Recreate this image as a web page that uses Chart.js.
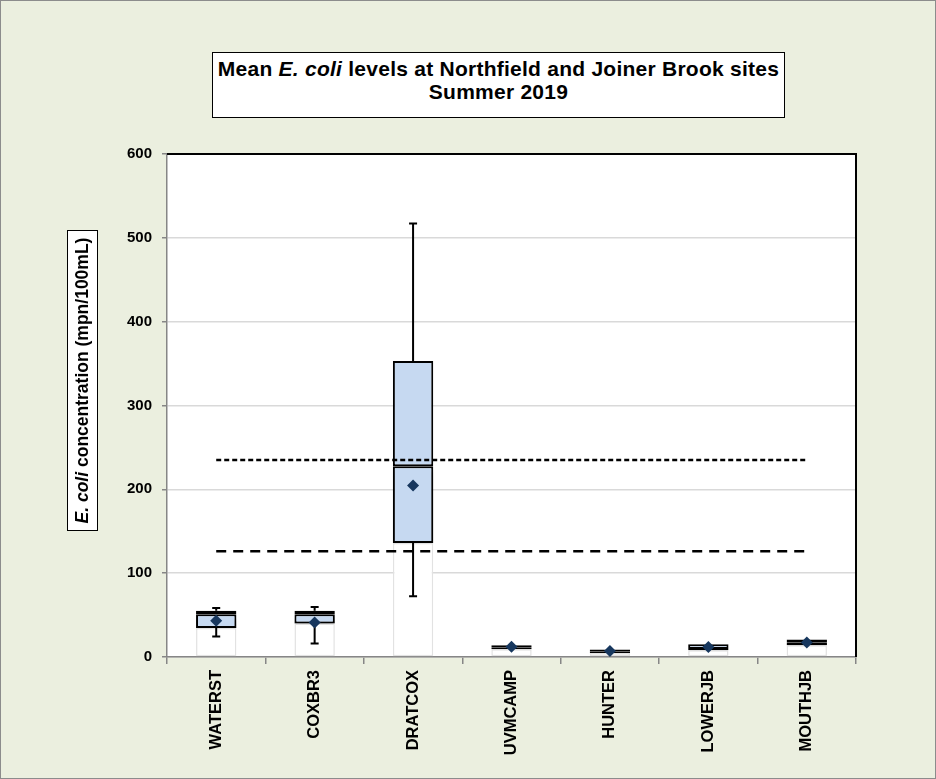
<!DOCTYPE html>
<html>
<head>
<meta charset="utf-8">
<script src="https://cdn.jsdelivr.net/npm/chart.js@4.4.0/dist/chart.umd.min.js"></script>
<style>
  html, body { margin: 0; padding: 0; }
  body {
    width: 936px; height: 779px; position: relative; overflow: hidden;
    background: #ebefdf; font-family: "Liberation Sans", Arial, sans-serif;
  }
  #frame { position: absolute; left: 0; top: 0; width: 934px; height: 777px; border: 1px solid #8c8c8c; }
  #chart { position: absolute; left: 0; top: 0; }
  #title {
    position: absolute; left: 212px; top: 52px; width: 573px; height: 66px;
    box-sizing: border-box; border: 1.5px solid #000; background: #fff;
    text-align: center; font-weight: bold; font-size: 21px; line-height: 23px;
    letter-spacing: 0.25px; padding-top: 4px; color: #000; white-space: nowrap;
  }
  #ytitle {
    position: absolute; left: -68px; top: 365px; width: 301px; height: 31px;
    box-sizing: border-box; border: 1.5px solid #000; background: #fff;
    transform: rotate(-90deg); text-align: center; font-weight: bold;
    font-size: 17.5px; line-height: 28px; color: #000; white-space: nowrap;
  }
</style>
</head>
<body>
<div id="frame"></div>
<canvas id="chart" width="936" height="779"></canvas>
<div id="title">Mean <i>E. coli</i> levels at Northfield and Joiner Brook sites<br>Summer 2019</div>
<div id="ytitle"><i>E. coli</i> concentration (mpn/100mL)</div>
<script>
// values
const sites = ["WATERST", "COXBR3", "DRATCOX", "UVMCAMP", "HUNTER", "LOWERJB", "MOUTHJB"];
const whiskerMin = [24.6, 16.1, 72.5, 9.3, 4.8, 8.1, 14.1];
const q1 = [34.6, 39.9, 136, 9.3, 4.8, 8.1, 14.1];
const median = [51.1, 51.1, 227.5, 11, 7, 9.5, 17.5];
const q3 = [55.2, 55.2, 353, 14.1, 8.9, 15.3, 20.9];
const whiskerMax = [58.4, 59.6, 517, 14.1, 8.9, 15.3, 20.9];
const means = [43.1, 41.1, 204.6, 12.1, 7.2, 12, 17.3];
const upperLimit = [235, 235, 235, 235, 235, 235, 235];
const lowerLimit = [126, 126, 126, 126, 126, 126, 126];
const yMin = 0, yMax = 600, yStep = 100;

const boxFill = "#c6d9f1";
const axisGray = "#868686";

const boxExtras = {
  id: "boxExtras",
  beforeDatasetDraw(chart, args) {
    if (args.index === 1) {
      const ctx = chart.ctx;
      ctx.save();
      ctx.shadowColor = "rgba(0,0,0,0.5)";
      ctx.shadowBlur = 7;
      ctx.shadowOffsetY = 5;
    }
  },
  afterDatasetDraw(chart, args) {
    const ctx = chart.ctx;
    if (args.index === 1) { ctx.restore(); return; }
    if (args.index !== 0) return;
    // whiskers, drawn over the white base bars and under the boxes
    const xs = chart.scales.x, ys = chart.scales.y;
    ctx.save();
    ctx.strokeStyle = "#000";
    ctx.lineWidth = 2;
    sites.forEach((s, i) => {
      const cx = xs.getPixelForValue(i);
      [[q3[i], whiskerMax[i]], [q1[i], whiskerMin[i]]].forEach(([from, to]) => {
        if (Math.abs(to - from) < 0.5) return;
        const y0 = ys.getPixelForValue(from), y1 = ys.getPixelForValue(to);
        ctx.beginPath();
        ctx.moveTo(cx, y0); ctx.lineTo(cx, y1);
        ctx.moveTo(cx - 4, y1); ctx.lineTo(cx + 4, y1);
        ctx.stroke();
      });
    });
    ctx.restore();
  },
  afterDraw(chart) {
    const a = chart.chartArea, ctx = chart.ctx;
    ctx.save();
    ctx.strokeStyle = "#000";
    ctx.lineWidth = 2;
    ctx.beginPath();
    ctx.moveTo(a.left, a.top); ctx.lineTo(a.right, a.top); ctx.lineTo(a.right, a.bottom);
    ctx.stroke();
    ctx.restore();
  }
};

const plotBg = {
  id: "plotBg",
  beforeDraw(chart) {
    const a = chart.chartArea, ctx = chart.ctx;
    ctx.save();
    ctx.fillStyle = "#fff";
    ctx.fillRect(a.left, a.top, a.right - a.left, a.bottom - a.top);
    ctx.restore();
  }
};

const barCommon = {
  type: "bar", grouped: false, categoryPercentage: 1, barPercentage: 0.41, borderSkipped: false
};

new Chart(document.getElementById("chart"), {
  data: {
    labels: sites,
    datasets: [
      Object.assign({}, barCommon, {
        label: "base", order: 10,
        data: q1.map((v) => [yMin, v]),
        backgroundColor: "#fff", borderColor: "#e2e2e2", borderWidth: 1.5
      }),
      Object.assign({}, barCommon, {
        label: "lower box", order: 7,
        data: q1.map((v, i) => [v, median[i]]),
        backgroundColor: boxFill, borderColor: "#000", borderWidth: 2
      }),
      Object.assign({}, barCommon, {
        label: "upper box", order: 8,
        data: median.map((v, i) => [v, q3[i]]),
        backgroundColor: boxFill, borderColor: "#000", borderWidth: 2
      }),
      {
        type: "line", label: "mean", order: 1, data: means, showLine: false,
        pointStyle: "rectRot", pointRadius: 6, pointBackgroundColor: "#17375e",
        pointBorderColor: "#17375e", pointBorderWidth: 0
      },
      {
        type: "line", label: "235", order: 3, data: upperLimit,
        borderColor: "#000", borderWidth: 2.5, borderDash: [5, 3], pointRadius: 0
      },
      {
        type: "line", label: "126", order: 3, data: lowerLimit,
        borderColor: "#000", borderWidth: 2.5, borderDash: [10, 7], pointRadius: 0
      }
    ]
  },
  options: {
    responsive: false,
    animation: false,
    layout: { padding: { top: 154, right: 80, bottom: 0, left: 0 } },
    plugins: { legend: { display: false }, tooltip: { enabled: false }, title: { display: false } },
    scales: {
      x: {
        type: "category", offset: true,
        grid: { offset: true, drawOnChartArea: false, drawTicks: true, tickLength: 7, color: axisGray, lineWidth: 1.5 },
        border: { color: axisGray, width: 1.5 },
        ticks: {
          minRotation: 90, maxRotation: 90, padding: 6, color: "#000",
          font: { family: "Liberation Sans", size: 16.5, weight: "bold" }
        },
        afterFit(scale) { scale.height = 122; }
      },
      y: {
        min: yMin, max: yMax,
        grid: { color: "#d9d9d9", lineWidth: 1.5, tickColor: axisGray, tickLength: 5 },
        border: { color: axisGray, width: 1.5 },
        ticks: {
          stepSize: yStep, padding: 10, color: "#000",
          font: { family: "Liberation Sans", size: 15, weight: "bold" }
        },
        afterFit(scale) { scale.width = 167; }
      }
    }
  },
  plugins: [plotBg, boxExtras]
});
</script>
</body>
</html>
